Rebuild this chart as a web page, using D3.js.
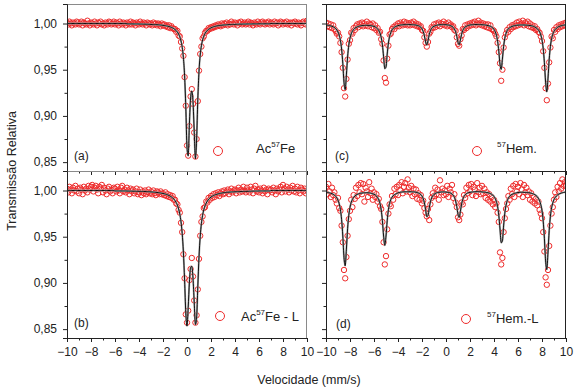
<!DOCTYPE html>
<html lang="pt">
<head>
<meta charset="UTF-8">
<title>Espectros Mössbauer</title>
<script src="https://cdn.jsdelivr.net/npm/d3@7"></script>
<style>
  body { margin: 0; background: #fff; }
  svg { font-family: "Liberation Sans", Arial, sans-serif; }
</style>
</head>
<body>
<div id="chart"></div>
<script>
// channel velocities (mm/s)
const velocity = [
  -10,-9.9,-9.8,-9.7,-9.6,-9.5,-9.4,-9.3,-9.2,-9.1,
  -9,-8.9,-8.8,-8.7,-8.6,-8.5,-8.4,-8.3,-8.2,-8.1,
  -8,-7.9,-7.8,-7.7,-7.6,-7.5,-7.4,-7.3,-7.2,-7.1,
  -7,-6.9,-6.8,-6.7,-6.6,-6.5,-6.4,-6.3,-6.2,-6.1,
  -6,-5.9,-5.8,-5.7,-5.6,-5.5,-5.4,-5.3,-5.2,-5.1,
  -5,-4.9,-4.8,-4.7,-4.6,-4.5,-4.4,-4.3,-4.2,-4.1,
  -4,-3.9,-3.8,-3.7,-3.6,-3.5,-3.4,-3.3,-3.2,-3.1,
  -3,-2.9,-2.8,-2.7,-2.6,-2.5,-2.4,-2.3,-2.2,-2.1,
  -2,-1.9,-1.8,-1.7,-1.6,-1.5,-1.4,-1.3,-1.2,-1.1,
  -1,-0.9,-0.8,-0.7,-0.6,-0.5,-0.4,-0.3,-0.2,-0.1,
  0,0.1,0.2,0.3,0.4,0.5,0.6,0.7,0.8,0.9,
  1,1.1,1.2,1.3,1.4,1.5,1.6,1.7,1.8,1.9,
  2,2.1,2.2,2.3,2.4,2.5,2.6,2.7,2.8,2.9,
  3,3.1,3.2,3.3,3.4,3.5,3.6,3.7,3.8,3.9,
  4,4.1,4.2,4.3,4.4,4.5,4.6,4.7,4.8,4.9,
  5,5.1,5.2,5.3,5.4,5.5,5.6,5.7,5.8,5.9,
  6,6.1,6.2,6.3,6.4,6.5,6.6,6.7,6.8,6.9,
  7,7.1,7.2,7.3,7.4,7.5,7.6,7.7,7.8,7.9,
  8,8.1,8.2,8.3,8.4,8.5,8.6,8.7,8.8,8.9,
  9,9.1,9.2,9.3,9.4,9.5,9.6,9.7,9.8,9.9,
  10
];

// (a) Ac57Fe
const acFe = [
  1.001,.999,1.002,1.000,.998,1.001,1.000,.999,1.002,1.001,
  .999,1.000,1.002,.998,1.001,1.000,.999,1.003,1.000,.998,
  1.001,1.000,.999,1.002,1.000,.998,1.001,1.000,1.002,.999,
  1.000,.998,1.001,1.000,.999,1.002,1.001,.999,1.000,1.002,
  .999,1.001,1.000,.998,1.002,1.000,.999,1.001,1.000,.998,
  1.001,1.000,.999,1.002,.999,1.001,1.000,.998,1.001,1.000,
  .999,1.002,1.000,.999,1.001,1.000,.998,1.001,1.000,.999,
  1.000,.998,1.001,.999,1.000,.998,1.000,.999,.997,1.000,
  .998,.999,.997,.998,.996,.998,.995,.997,.995,.994,
  .994,.991,.992,.987,.986,.980,.973,.965,.942,.911,
  .868,.857,.889,.921,.929,.913,.882,.856,.875,.916,
  .949,.967,.975,.984,.986,.990,.992,.992,.995,.994,
  .996,.995,.997,.996,.998,.997,.999,.998,.997,1.000,
  .998,1.000,.999,1.001,.998,1.000,.999,1.002,1.000,.999,
  1.001,1.000,.998,1.001,1.000,1.002,.999,1.000,1.001,.999,
  1.000,1.002,.999,1.001,1.000,.998,1.001,1.000,.999,1.002,
  1.000,.999,1.001,1.002,1.000,.999,1.001,1.000,1.002,.999,
  1.001,1.000,.999,1.002,1.000,1.001,.998,1.000,1.002,1.001,
  .999,1.001,1.000,1.002,.999,1.000,1.001,.998,1.001,1.000,
  1.002,1.000,.999,1.001,1.000,.998,1.001,1.002,1.000,.999,
  1.003
];
const acFeFit = [
  1,1,1,1,1,1,1,1,1,1,
  1,1,1,1,1,1,1,1,1,1,
  1,1,1,1,1,1,1,1,1,1,
  1,1,1,1,1,1,1,1,1,1,
  1,1,1,1,1,1,1,1,1,1,
  .9996,.9996,.9996,.9996,.9996,.9995,.9995,.9995,.9995,.9995,
  .9994,.9994,.9994,.9993,.9993,.9993,.9992,.9992,.9991,.9991,
  .999,.9989,.9988,.9988,.9987,.9987,.9986,.9985,.9983,.9982,
  .998,.9978,.9976,.9973,.9971,.9967,.9963,.9958,.9952,.9945,
  .9935,.9923,.9907,.9886,.9856,.9811,.9743,.963,.9435,.9097,
  .8659,.8568,.8915,.9193,.927,.9154,.884,.8536,.8739,.9178,
  .9483,.9658,.9759,.9822,.9863,.9891,.9911,.9926,.9937,.9946,
  .9953,.9959,.9964,.9968,.9971,.9974,.9976,.9978,.998,.9981,
  .9983,.9984,.9985,.9986,.9987,.9988,.9988,.9989,.999,.999,
  .9991,.9991,.9992,.9992,.9993,.9993,.9993,.9994,.9994,.9994,
  .9995,.9995,.9995,.9995,.9995,.9996,.9996,.9996,.9996,.9996,
  .9997,.9997,.9997,.9997,.9997,.9997,.9997,.9997,.9997,.9997,
  1,1,1,1,1,1,1,1,1,1,
  1,1,1,1,1,1,1,1,1,1,
  1,1,1,1,1,1,1,1,1,1,
  1
];

// (b) Ac57Fe - L
const acFeL = [
  1.002,.998,1.004,1.001,.997,1.003,1.000,1.005,.999,1.002,
  .997,1.003,1.001,.996,1.004,1.000,1.002,.998,1.005,1.001,
  1.004,1.006,.999,1.003,1.005,1.001,.997,1.004,1.002,1.006,
  .998,1.003,1.000,.996,1.002,1.004,.999,1.001,.997,1.003,
  1.002,.999,1.004,1.000,.997,1.003,1.005,.999,1.001,.998,
  1.003,1.000,.996,1.002,.999,1.001,.997,.999,1.002,.996,
  .998,1.001,.995,.999,.997,1.000,.996,.998,1.001,.997,
  .999,.996,1.000,.997,.995,.999,.998,.996,.999,.996,
  .997,.995,.998,.994,.996,.993,.995,.992,.994,.990,
  .990,.986,.985,.979,.976,.965,.955,.931,.905,.866,
  .857,.870,.903,.915,.927,.907,.881,.857,.865,.893,
  .926,.951,.966,.972,.981,.982,.988,.987,.992,.990,
  .994,.992,.996,.993,.997,.995,.998,.994,.997,.999,
  .996,1.000,.997,.999,1.001,.996,.999,1.002,.998,1.000,
  1.001,.997,1.000,1.003,.998,1.001,.999,1.004,1.000,.998,
  1.003,1.000,.998,1.004,1.001,.997,1.002,1.005,.999,1.001,
  .998,1.002,1.000,.997,1.003,.999,1.001,.996,1.002,1.000,
  1.001,.998,1.003,1.000,.996,1.002,.999,1.001,1.004,.998,
  1.006,1.002,.999,1.004,1.001,.998,1.003,1.000,1.005,.999,
  1.002,.998,1.004,1.000,.997,1.003,1.001,.999,1.002,.997,
  1.000
];
const acFeLFit = [
  1,1,1,1,1,1,1,1,1,1,
  1,1,1,1,1,1,1,1,1,1,
  1,1,1,1,1,1,1,1,1,1,
  1,1,1,1,1,1,1,1,1,1,
  .9995,.9995,.9995,.9995,.9995,.9995,.9995,.9995,.9995,.9995,
  .9994,.9994,.9993,.9993,.9993,.9992,.9992,.9992,.9991,.9991,
  .9991,.9991,.999,.999,.999,.9989,.9988,.9988,.9987,.9986,
  .9985,.9984,.9983,.9982,.998,.9979,.9977,.9975,.9973,.997,
  .9968,.9965,.9961,.9957,.9952,.9946,.9939,.9931,.9921,.9908,
  .9891,.987,.9841,.9801,.9745,.9662,.9534,.9333,.9029,.8676,
  .8533,.8734,.9009,.9166,.918,.9052,.8794,.855,.862,.8958,
  .928,.9501,.9641,.9732,.9792,.9834,.9864,.9887,.9905,.9918,
  .9929,.9938,.9945,.9951,.9956,.996,.9964,.9967,.997,.9972,
  .9975,.9977,.9978,.998,.9981,.9982,.9983,.9984,.9985,.9985,
  .9986,.9987,.9987,.9988,.9988,.9989,.9989,.999,.999,.999,
  .9991,.9991,.9992,.9992,.9993,.9993,.9993,.9994,.9994,.9994,
  .9995,.9995,.9995,.9995,.9995,.9995,.9995,.9995,.9995,.9995,
  1,1,1,1,1,1,1,1,1,1,
  1,1,1,1,1,1,1,1,1,1,
  1,1,1,1,1,1,1,1,1,1,
  1
];

// (c) 57Hem.
const hem = [
  1.001,.997,1.000,.996,.999,.995,.998,.994,.992,.989,
  .990,.986,.979,.969,.952,.930,.921,.940,.961,.978,
  .982,.990,.989,.995,.993,.997,.999,.996,1.000,.998,
  1.001,.997,1.000,.998,1.002,.997,1.000,.999,.996,1.000,
  .995,.998,.993,.995,.990,.991,.983,.978,.960,.941,
  .936,.962,.976,.988,.989,.994,.996,.994,.998,.997,
  1.000,.997,1.001,.999,.998,1.002,.999,1.001,.998,1.000,
  .998,1.001,.999,1.002,.998,1.000,.997,.999,.996,.997,
  .993,.992,.985,.979,.975,.980,.989,.991,.996,.995,
  .999,.996,1.000,.998,1.001,.997,1.000,.999,1.002,.998,
  1.000,.997,1.001,.998,.999,.996,.997,.993,.992,.985,
  .978,.976,.983,.987,.994,.993,.998,.995,.999,.997,
  1.000,.998,1.001,.999,1.002,.998,1.000,1.003,.999,1.001,
  .998,1.000,.997,.999,.996,.999,.995,.998,.994,.993,
  .992,.989,.986,.979,.969,.957,.938,.950,.974,.985,
  .989,.993,.991,.996,.994,.998,.996,.999,.997,1.001,
  .998,1.002,.999,1.000,1.003,.998,1.001,.999,1.002,.997,
  1.000,.996,.998,.995,.997,.993,.994,.991,.990,.986,
  .981,.970,.952,.930,.917,.935,.958,.974,.986,.984,
  .993,.991,.996,.994,.998,.996,.999,.997,1.000,.998,
  1.001
];
const hemFit = [
  .9985,.9983,.998,.9977,.9974,.997,.9964,.9957,.9946,.9931,
  .9908,.9874,.9818,.9724,.9568,.9363,.9285,.9444,.9639,.9766,
  .9842,.9888,.9916,.9935,.9948,.9957,.9963,.9968,.9972,.9975,
  .9977,.9978,.9979,.998,.998,.998,.9979,.9978,.9975,.9972,
  .9968,.9963,.9954,.9942,.9924,.9896,.9849,.9768,.964,.9512,
  .953,.9669,.9788,.986,.9902,.9931,.9948,.9959,.9967,.9972,
  .9977,.998,.9983,.9985,.9986,.9987,.9988,.9988,.9989,.9989,
  .9988,.9988,.9987,.9986,.9985,.9983,.998,.9976,.997,.996,
  .9942,.9914,.9866,.9801,.9768,.9814,.9878,.9921,.9947,.9962,
  .997,.9976,.998,.9983,.9986,.9987,.9987,.9988,.9988,.9988,
  .9987,.9985,.9983,.998,.9975,.9969,.9958,.994,.9911,.9861,
  .9796,.9771,.9822,.9884,.9925,.9949,.9963,.9969,.9977,.9981,
  .9984,.9986,.9987,.9988,.9989,.9989,.9989,.9989,.9988,.9988,
  .9987,.9986,.9985,.9983,.998,.9977,.9974,.997,.9962,.9952,
  .9936,.9912,.9873,.9808,.97,.9558,.9504,.9614,.975,.984,
  .9892,.9924,.9944,.9953,.9962,.9968,.9973,.9976,.9979,.9981,
  .9982,.9983,.9984,.9984,.9984,.9984,.9983,.9982,.9981,.998,
  .9978,.9976,.9973,.9968,.9962,.9955,.9945,.993,.991,.9876,
  .9821,.973,.9576,.9366,.9261,.9408,.9613,.9752,.9835,.9884,
  .9915,.9935,.9949,.9959,.9967,.9972,.9976,.9979,.9982,.9984,
  .9986
];

// (d) 57Hem.-L
const hemL = [
  1.004,.996,1.007,.999,.993,1.003,.995,.998,.990,.986,
  .992,.981,.978,.962,.944,.914,.905,.928,.951,.969,
  .978,.990,.982,.995,.991,1.003,.994,1.006,.998,1.008,
  .996,1.007,.988,1.003,.999,.993,1.009,.997,1.002,.990,
  .998,.993,.996,.988,.991,.983,.980,.966,.944,.920,
  .929,.958,.975,.985,.983,.994,.990,1.002,.996,1.004,
  .995,1.006,1.000,1.009,.997,1.004,1.008,.999,1.012,1.003,
  .998,1.005,.994,1.002,.996,1.001,.991,.997,.990,.995,
  .986,.989,.981,.976,.972,.980,.968,.985,.992,.997,
  .994,1.003,.996,1.001,.990,1.011,.998,1.002,.995,1.000,
  .996,1.005,.993,1.002,.998,1.006,.992,.996,.987,.982,
  .971,.968,.974,.987,.985,.995,.992,1.003,.997,1.006,
  .999,1.007,.995,1.004,1.001,.994,1.008,.998,1.003,.996,
  1.005,.997,1.002,.992,.998,.990,.996,.988,.993,.985,
  .990,.982,.986,.976,.966,.933,.920,.927,.955,.970,
  .980,.986,.994,.990,1.002,.996,1.005,.993,1.007,.999,
  1.004,.996,1.008,1.001,.993,1.006,.998,1.003,.995,.999,
  .990,.997,.988,.993,.986,.991,.984,.988,.979,.975,
  .970,.955,.934,.906,.898,.914,.940,.962,.975,.982,
  .990,.998,.993,1.004,.999,1.008,1.002,1.012,1.005,1.009,
  1.006
];
const hemLFit = [
  .9983,.9981,.9977,.9974,.997,.9966,.9959,.9951,.9938,.9921,
  .9895,.9856,.9793,.9685,.9508,.9274,.9185,.9366,.9588,.9733,
  .9818,.9871,.9903,.9925,.994,.9951,.9957,.9963,.9968,.9971,
  .9972,.9974,.9975,.9976,.9976,.9975,.9974,.9972,.9968,.9964,
  .996,.9953,.9941,.9924,.9899,.9858,.9789,.9673,.9507,.9406,
  .9507,.9673,.9791,.9861,.9902,.9927,.9944,.9955,.9962,.9967,
  .9975,.9978,.9981,.9983,.9985,.9985,.9986,.9986,.9986,.9986,
  .9987,.9986,.9985,.9985,.9984,.9981,.9978,.9973,.9966,.9956,
  .994,.9912,.9866,.9792,.9717,.9728,.9808,.9877,.9919,.9943,
  .9958,.9967,.9974,.9978,.998,.9982,.9984,.9984,.9985,.9984,
  .9983,.9981,.9979,.9976,.9971,.9961,.9949,.9926,.9888,.9825,
  .9742,.971,.9774,.9853,.9905,.9936,.9954,.9966,.9973,.9978,
  .998,.9983,.9984,.9986,.9986,.9987,.9987,.9988,.9987,.9987,
  .9984,.9983,.9982,.998,.9978,.9975,.9972,.9967,.996,.995,
  .9935,.9913,.988,.9825,.9731,.9583,.9435,.9456,.9617,.9754,
  .9838,.9888,.9918,.9937,.995,.9958,.9964,.9968,.9972,.9976,
  .9978,.9979,.998,.9981,.9981,.998,.998,.9978,.9978,.9976,
  .9974,.997,.9967,.9962,.9955,.9946,.9934,.9915,.9889,.9847,
  .9782,.9669,.9482,.9238,.9144,.9334,.9567,.9721,.9812,.9866,
  .9902,.9924,.994,.9952,.9961,.9967,.9972,.9976,.9979,.9981,
  .9983
];

const panelTags = ["(a)", "(b)", "(c)", "(d)"];
const legendPre = ["Ac", "Ac", "", ""];
const legendSup = ["57", "57", "57", "57"];
const legendPost = ["Fe", "Fe - L", "Hem.", "Hem.-L"];
const xTicks = [-10, -8, -6, -4, -2, 0, 2, 4, 6, 8, 10];
const xMinorTicks = [-9, -7, -5, -3, -1, 1, 3, 5, 7, 9];
const yTicks = [0.85, 0.90, 0.95, 1.00];
const yMinorTicks = [0.875, 0.925, 0.975];

// layout
const W = 575, H = 387;
const colX = [67, 326], rowY = [4, 171];
const pw = 240, ph = 167;
const red = "#ee2b2b";

const panels = [
  { data: acFe,  fit: acFeFit,  col: 0, row: 0, tagX: 7,  tagY: 156, cx: 151, cy: 147, tx: 189, ty: 149 },
  { data: acFeL, fit: acFeLFit, col: 0, row: 1, tagX: 7,  tagY: 156, cx: 153, cy: 145, tx: 174, ty: 150 },
  { data: hem,   fit: hemFit,   col: 1, row: 0, tagX: 9,  tagY: 156, cx: 151, cy: 147, tx: 171, ty: 149 },
  { data: hemL,  fit: hemLFit,  col: 1, row: 1, tagX: 10, tagY: 157, cx: 140, cy: 148, tx: 161, ty: 152 }
];

const svg = d3.select("#chart").append("svg")
  .attr("width", W)
  .attr("height", H);

const x = d3.scaleLinear().domain([-10, 10]).range([0, pw]);
const y = d3.scaleLinear().domain([0.8404, 1.0211]).range([ph, 0]);

svg.append("defs").append("clipPath")
  .attr("id", "clip")
  .append("rect")
    .attr("width", pw)
    .attr("height", ph);

const fmt = d => d3.format(".2f")(d).replace(".", ",");

panels.forEach((p, i) => {
  const g = svg.append("g")
    .attr("transform", `translate(${colX[p.col]},${rowY[p.row]})`);

  const pts = velocity.map((v, k) => ({ v, t: p.data[k] }));
  const fitPts = velocity.map((v, k) => ({ v, t: p.fit[k] }));

  const plot = g.append("g").attr("clip-path", "url(#clip)");

  plot.selectAll("circle")
    .data(pts)
    .join("circle")
      .attr("cx", d => x(d.v))
      .attr("cy", d => y(d.t))
      .attr("r", 2.7)
      .attr("fill", "none")
      .attr("stroke", red)
      .attr("stroke-width", 1);

  const line = d3.line()
    .x(d => x(d.v))
    .y(d => y(d.t))
    .curve(d3.curveMonotoneX);

  plot.append("path")
    .datum(fitPts)
    .attr("fill", "none")
    .attr("stroke", "#a8a8a8")
    .attr("stroke-width", 1.9)
    .attr("d", line);

  plot.append("path")
    .datum(fitPts)
    .attr("fill", "none")
    .attr("stroke", "#000")
    .attr("stroke-width", 0.9)
    .attr("d", line);

  // frame: top/right
  const edge = p.col === 0 ? "#8a8a8a" : "#222";
  g.append("line").attr("x1", 0).attr("x2", pw).attr("y1", 0.5).attr("y2", 0.5)
    .attr("stroke", edge);
  g.append("line").attr("x1", pw - 0.5).attr("x2", pw - 0.5).attr("y1", 0).attr("y2", ph)
    .attr("stroke", edge);

  // left axis
  const yAxis = g.append("g")
    .call(d3.axisLeft(y).tickValues(yTicks).tickSize(4).tickPadding(6)
      .tickFormat(p.col === 0 ? fmt : ""));
  g.append("g")
    .call(d3.axisLeft(y).tickValues(yMinorTicks).tickSize(2.5).tickFormat(""))
    .select(".domain").remove();

  // bottom axis
  const xAxis = g.append("g")
    .attr("transform", `translate(0,${ph})`)
    .call(d3.axisBottom(x).tickValues(xTicks).tickSize(4).tickPadding(5)
      .tickFormat(p.row === 1 ? d3.format("") : ""));
  g.append("g")
    .attr("transform", `translate(0,${ph})`)
    .call(d3.axisBottom(x).tickValues(xMinorTicks).tickSize(2.5).tickFormat(""))
    .select(".domain").remove();

  [yAxis, xAxis].forEach(a => {
    a.selectAll("path, line").attr("stroke", "#222");
    a.selectAll("text")
      .attr("fill", "#222")
      .style("font-size", "12px")
      .style("font-family", "'Liberation Sans', Arial, sans-serif");
  });
  g.selectAll(".tick line").attr("stroke", "#222");

  // panel tag
  g.append("text")
    .attr("x", p.tagX)
    .attr("y", p.tagY)
    .attr("fill", "#222")
    .style("font-size", "12px")
    .text(panelTags[i]);

  // legend
  g.append("circle")
    .attr("cx", p.cx)
    .attr("cy", p.cy)
    .attr("r", 4.5)
    .attr("fill", "none")
    .attr("stroke", red)
    .attr("stroke-width", 1);

  const lt = g.append("text")
    .attr("x", p.tx)
    .attr("y", p.ty)
    .attr("fill", "#222")
    .style("font-size", "13px");
  if (legendPre[i]) lt.append("tspan").text(legendPre[i]);
  lt.append("tspan")
    .attr("dy", -6)
    .style("font-size", "8px")
    .text(legendSup[i]);
  lt.append("tspan")
    .attr("dy", 6)
    .text(legendPost[i]);
});

// axis titles
svg.append("text")
  .attr("transform", "translate(16,171) rotate(-90)")
  .attr("text-anchor", "middle")
  .attr("fill", "#222")
  .style("font-size", "12.5px")
  .text("Transmissão Relativa");

svg.append("text")
  .attr("x", 309)
  .attr("y", 384)
  .attr("text-anchor", "middle")
  .attr("fill", "#222")
  .style("font-size", "12.5px")
  .text("Velocidade (mm/s)");
</script>
</body>
</html>
